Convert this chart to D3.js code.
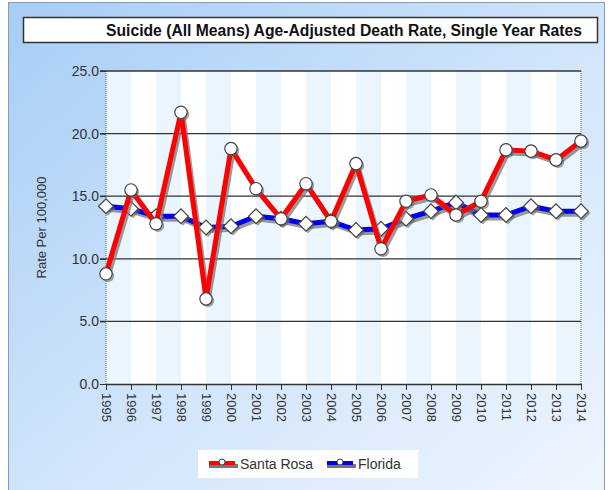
<!DOCTYPE html>
<html>
<head>
<meta charset="utf-8">
<script src="https://cdn.jsdelivr.net/npm/d3@7"></script>
<style>
  body { margin: 0; background: #fff; }
  svg { display: block; font-family: "Liberation Sans", Arial, sans-serif; }
</style>
</head>
<body>
<svg width="608" height="490"></svg>
<script>
// data
var years = ["1995","1996","1997","1998","1999","2000","2001","2002","2003","2004",
             "2005","2006","2007","2008","2009","2010","2011","2012","2013","2014"];
var santaRosa = [8.8, 15.5, 12.8, 21.7, 6.8, 18.8, 15.6, 13.2, 16.0, 13.0,
                 17.6, 10.8, 14.6, 15.1, 13.5, 14.6, 18.7, 18.6, 17.9, 19.4];
var florida = [14.2, 14.0, 13.4, 13.4, 12.5, 12.6, 13.4, 13.2, 12.8, 13.0,
               12.3, 12.4, 13.2, 13.8, 14.5, 13.5, 13.5, 14.2, 13.8, 13.8];
var yTicks = [0, 5, 10, 15, 20, 25];

var svg = d3.select("svg");

// background gradient
var defs = svg.append("defs");
var grad = defs.append("linearGradient").attr("id", "bg")
    .attr("x1", "0").attr("y1", "0").attr("x2", "1").attr("y2", "1");
grad.append("stop").attr("offset", "0%").attr("stop-color", "#a6cdf6");
grad.append("stop").attr("offset", "55%").attr("stop-color", "#d3e6fb");
grad.append("stop").attr("offset", "100%").attr("stop-color", "#eef5fd");

svg.append("rect")
    .attr("x", 8.5).attr("y", 2.5).attr("width", 596).attr("height", 494)
    .attr("fill", "url(#bg)").attr("stroke", "#8a9aa8");

// title
svg.append("rect")
    .attr("x", 23.5).attr("y", 17.5).attr("width", 574).attr("height", 25)
    .attr("fill", "#fff").attr("stroke", "#333").attr("stroke-width", 1.5);
svg.append("text")
    .attr("x", 344).attr("y", 36)
    .attr("text-anchor", "middle")
    .attr("textLength", 476).attr("lengthAdjust", "spacingAndGlyphs")
    .style("font-size", "16px").style("font-weight", "bold").style("fill", "#111")
    .text("Suicide (All Means) Age-Adjusted Death Rate, Single Year Rates");

var x = d3.scalePoint().domain(years).range([106, 581]);
var y = d3.scaleLinear().domain([0, 25]).range([384, 71]);

// plot area with stripes
svg.append("rect")
    .attr("x", x(years[0])).attr("y", y(25))
    .attr("width", x(years[years.length - 1]) - x(years[0])).attr("height", y(0) - y(25))
    .attr("fill", "#fff");

svg.selectAll(".stripe")
    .data(years.slice(0, -1).filter((d, i) => i % 2 == 0))
    .enter().append("rect")
    .attr("class", "stripe")
    .attr("x", d => x(d))
    .attr("y", y(25))
    .attr("width", x.step())
    .attr("height", y(0) - y(25))
    .attr("fill", "#ebf5fe");

// dotted side borders
[years[0], years[years.length - 1]].forEach(function(d) {
    svg.append("line")
        .attr("x1", x(d)).attr("x2", x(d))
        .attr("y1", y(25)).attr("y2", y(0))
        .attr("stroke", "#666").attr("stroke-dasharray", "1,1");
});

// gridlines
svg.selectAll(".grid")
    .data(yTicks.filter(d => d > 0))
    .enter().append("line")
    .attr("class", "grid")
    .attr("x1", 100).attr("x2", x(years[years.length - 1]))
    .attr("y1", d => y(d)).attr("y2", d => y(d))
    .attr("stroke", "#333").attr("stroke-width", 1.3);

// axes
var yAxis = svg.append("g")
    .attr("transform", `translate(${x(years[0])},0)`)
    .call(d3.axisLeft(y).tickValues(yTicks).tickFormat(d3.format(".1f")).tickSize(6));
yAxis.select(".domain").remove();
yAxis.selectAll("line").attr("stroke", "#333");
yAxis.selectAll("text").style("font-size", "14px").style("fill", "#333")
    .attr("x", -7).attr("font-family", null);

var xAxis = svg.append("g")
    .attr("transform", `translate(0,${y(0)})`)
    .call(d3.axisBottom(x).tickSize(6).tickSizeOuter(0));
xAxis.select(".domain").attr("stroke", "#333").attr("stroke-width", 1.5);
xAxis.selectAll("line").attr("stroke", "#333");
xAxis.selectAll("text")
    .attr("font-family", null)
    .style("font-size", "13px").style("fill", "#333")
    .attr("transform", "rotate(90)")
    .attr("x", 9).attr("y", 0).attr("dy", "0.35em")
    .style("text-anchor", "start");

svg.append("text")
    .attr("transform", `translate(46,${(y(0) + y(25)) / 2}) rotate(-90)`)
    .attr("text-anchor", "middle")
    .style("font-size", "13px").style("fill", "#333")
    .text("Rate Per 100,000");

// series
var line = d3.line().x((d, i) => x(years[i])).y(d => y(d));

function drawSeries(values, color, shape) {
    var g = svg.append("g");
    g.append("path").datum(values)
        .attr("d", line).attr("transform", "translate(2,3)")
        .attr("fill", "none").attr("stroke", "#777").attr("stroke-opacity", 0.75)
        .attr("stroke-width", 5).attr("stroke-linejoin", "round");
    g.append("path").datum(values)
        .attr("d", line)
        .attr("fill", "none").attr("stroke", color)
        .attr("stroke-width", 5).attr("stroke-linejoin", "round");
    var sym = d3.symbol().type(shape).size(shape == d3.symbolCircle ? 120 : 110);
    g.selectAll(".sh").data(values).enter().append("path")
        .attr("d", sym)
        .attr("transform", (d, i) => `translate(${x(years[i]) + 2},${y(d) + 2})` + (shape == d3.symbolSquare ? " rotate(45)" : ""))
        .attr("fill", "#666").attr("fill-opacity", 0.6);
    g.selectAll(".mk").data(values).enter().append("path")
        .attr("d", sym)
        .attr("transform", (d, i) => `translate(${x(years[i])},${y(d)})` + (shape == d3.symbolSquare ? " rotate(45)" : ""))
        .attr("fill", "#fff").attr("stroke", "#444").attr("stroke-width", 1.2);
}

drawSeries(florida, "#0000ee", d3.symbolSquare);
drawSeries(santaRosa, "#ff0000", d3.symbolCircle);

// legend
var legend = svg.append("g");
legend.append("rect")
    .attr("x", 198).attr("y", 450).attr("width", 220).attr("height", 28)
    .attr("fill", "#fff");

var legendItems = [
    { name: "Santa Rosa", color: "#ff0000", x: 209 },
    { name: "Florida", color: "#0000ee", x: 327 }
];
legendItems.forEach(function(d) {
    var item = legend.append("g").attr("transform", `translate(${d.x},464)`);
    item.append("rect").attr("x", 0).attr("y", 0).attr("width", 29).attr("height", 4).attr("fill", "#777");
    item.append("rect").attr("x", 0).attr("y", -3).attr("width", 26).attr("height", 4).attr("fill", d.color);
    item.append("circle").attr("cx", 13).attr("cy", -2).attr("r", 3)
        .attr("fill", "#fff").attr("stroke", "#444");
    item.append("text").attr("x", 31).attr("y", 0).attr("dy", "0.35em")
        .style("font-size", "14px").style("fill", "#333")
        .text(d.name);
});
</script>
</body>
</html>
